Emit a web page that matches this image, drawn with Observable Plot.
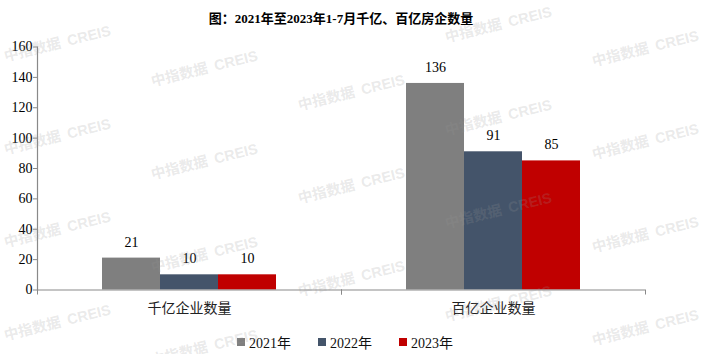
<!DOCTYPE html>
<html>
<head>
<meta charset="utf-8">
<script src="https://cdn.jsdelivr.net/npm/d3@7"></script>
<script src="https://cdn.jsdelivr.net/npm/@observablehq/plot@0.6"></script>
<style>
  body { margin: 0; background: #fff; }
  #wrap { position: relative; width: 702px; height: 354px; overflow: hidden;
          font-family: "Liberation Serif", "Times New Roman", "Noto Sans CJK SC", serif; }
  #title { position: absolute; top: 8px; left: 0; width: 682px; text-align: center;
           font-weight: bold; font-size: 13px; color: #000; }
  #chart { position: absolute; top: 36px; left: 0; }
  #legend { position: absolute; top: 332px; left: 237px; display: flex; gap: 27px;
            font-size: 14px; color: #111; }
  .item { display: inline-flex; align-items: center; gap: 4px; }
  .sw { width: 8px; height: 8px; display: inline-block; }
  #wm { position: absolute; inset: 0; pointer-events: none; }
  .wm { position: absolute; white-space: pre; font-family: "Liberation Sans", "Noto Sans CJK SC", sans-serif;
        font-weight: bold; font-size: 14.5px; word-spacing: 3px; color: rgba(150,150,150,0.21);
        transform: translate(-50%, -50%) rotate(-14deg); }
</style>
</head>
<body>
<div id="wrap">
  <div id="title">图：2021年至2023年1-7月千亿、百亿房企数量</div>
  <div id="chart"></div>
  <div id="legend"></div>
  <div id="wm"></div>
</div>
<script>
// ---- data ----
const categories = ["千亿企业数量", "百亿企业数量"];
const years = ["2021年", "2022年", "2023年"];
const values2021 = [21, 136];
const values2022 = [10, 91];
const values2023 = [10, 85];
const yTicks = [0, 20, 40, 60, 80, 100, 120, 140, 160];
const colors = ["#7F7F7F", "#44546A", "#C00000"];

const series = [values2021, values2022, values2023];
const data = categories.flatMap((c, i) =>
  years.map((y, j) => ({category: c, year: y, value: series[j][i]})));

const W = 702, ML = 37, MR = 57;
const half = (W - ML - MR) / categories.length / 2;
const axisColor = "#898989";

const plot = Plot.plot({
  width: W,
  height: 282,
  marginLeft: ML,
  marginRight: MR,
  marginTop: 10.5,
  marginBottom: 28.5,
  style: {fontFamily: '"Liberation Serif", "Times New Roman", "Noto Sans CJK SC", serif',
          fontSize: "14px", color: "#000", background: "transparent"},
  fx: {domain: categories, padding: 0, label: null},
  x: {domain: years, axis: null, paddingInner: 0, paddingOuter: 1.1},
  y: {domain: [0, 160], label: null},
  color: {domain: years, range: colors},
  marks: [
    Plot.barY(data, {fx: "category", x: "year", y: "value", fill: "year"}),
    Plot.text(data, {fx: "category", x: "year", y: "value", text: d => String(d.value),
                     dy: -16, lineAnchor: "middle", fontSize: 14, fill: "#000"}),
    Plot.frame({anchor: "left", facet: "super", stroke: axisColor, strokeWidth: 1.2}),
    Plot.ruleY([0], {stroke: axisColor, strokeWidth: 1.2}),
    Plot.axisY({ticks: yTicks, tickSize: 4, tickPadding: 1, stroke: axisColor,
                fill: "#000", label: null, fontSize: 14}),
    Plot.axisFx({anchor: "bottom", tickSize: 0, tickPadding: 13, label: null, fontSize: 14, fill: "#222"}),
    Plot.axisFx({anchor: "bottom", tickSize: 5, tickFormat: () => "", label: null, dx: -half, stroke: axisColor}),
    Plot.axisFx({anchor: "bottom", tickSize: 5, tickFormat: () => "", label: null, dx: half, stroke: axisColor})
  ]
});
document.getElementById("chart").appendChild(plot);

// ---- legend ----
const legend = document.getElementById("legend");
years.forEach((y, i) => {
  const it = document.createElement("span");
  it.className = "item";
  const sw = document.createElement("span");
  sw.className = "sw";
  sw.style.background = colors[i];
  const tx = document.createElement("span");
  tx.textContent = y;
  it.appendChild(sw); it.appendChild(tx);
  legend.appendChild(it);
});

// ---- watermark ----
const wm = document.getElementById("wm");
for (let c = 0; c < 5; c++) {
  for (let k = -1; k < 5; k++) {
    const x = 57 + 147 * c, y = 42 + 24.5 * c + 93 * k;
    if (y < 8 || y > 350) continue;
    const d = document.createElement("div");
    d.className = "wm";
    d.textContent = "中指数据 CREIS";
    d.style.left = x + "px";
    d.style.top = y + "px";
    wm.appendChild(d);
  }
}
</script>
</body>
</html>
